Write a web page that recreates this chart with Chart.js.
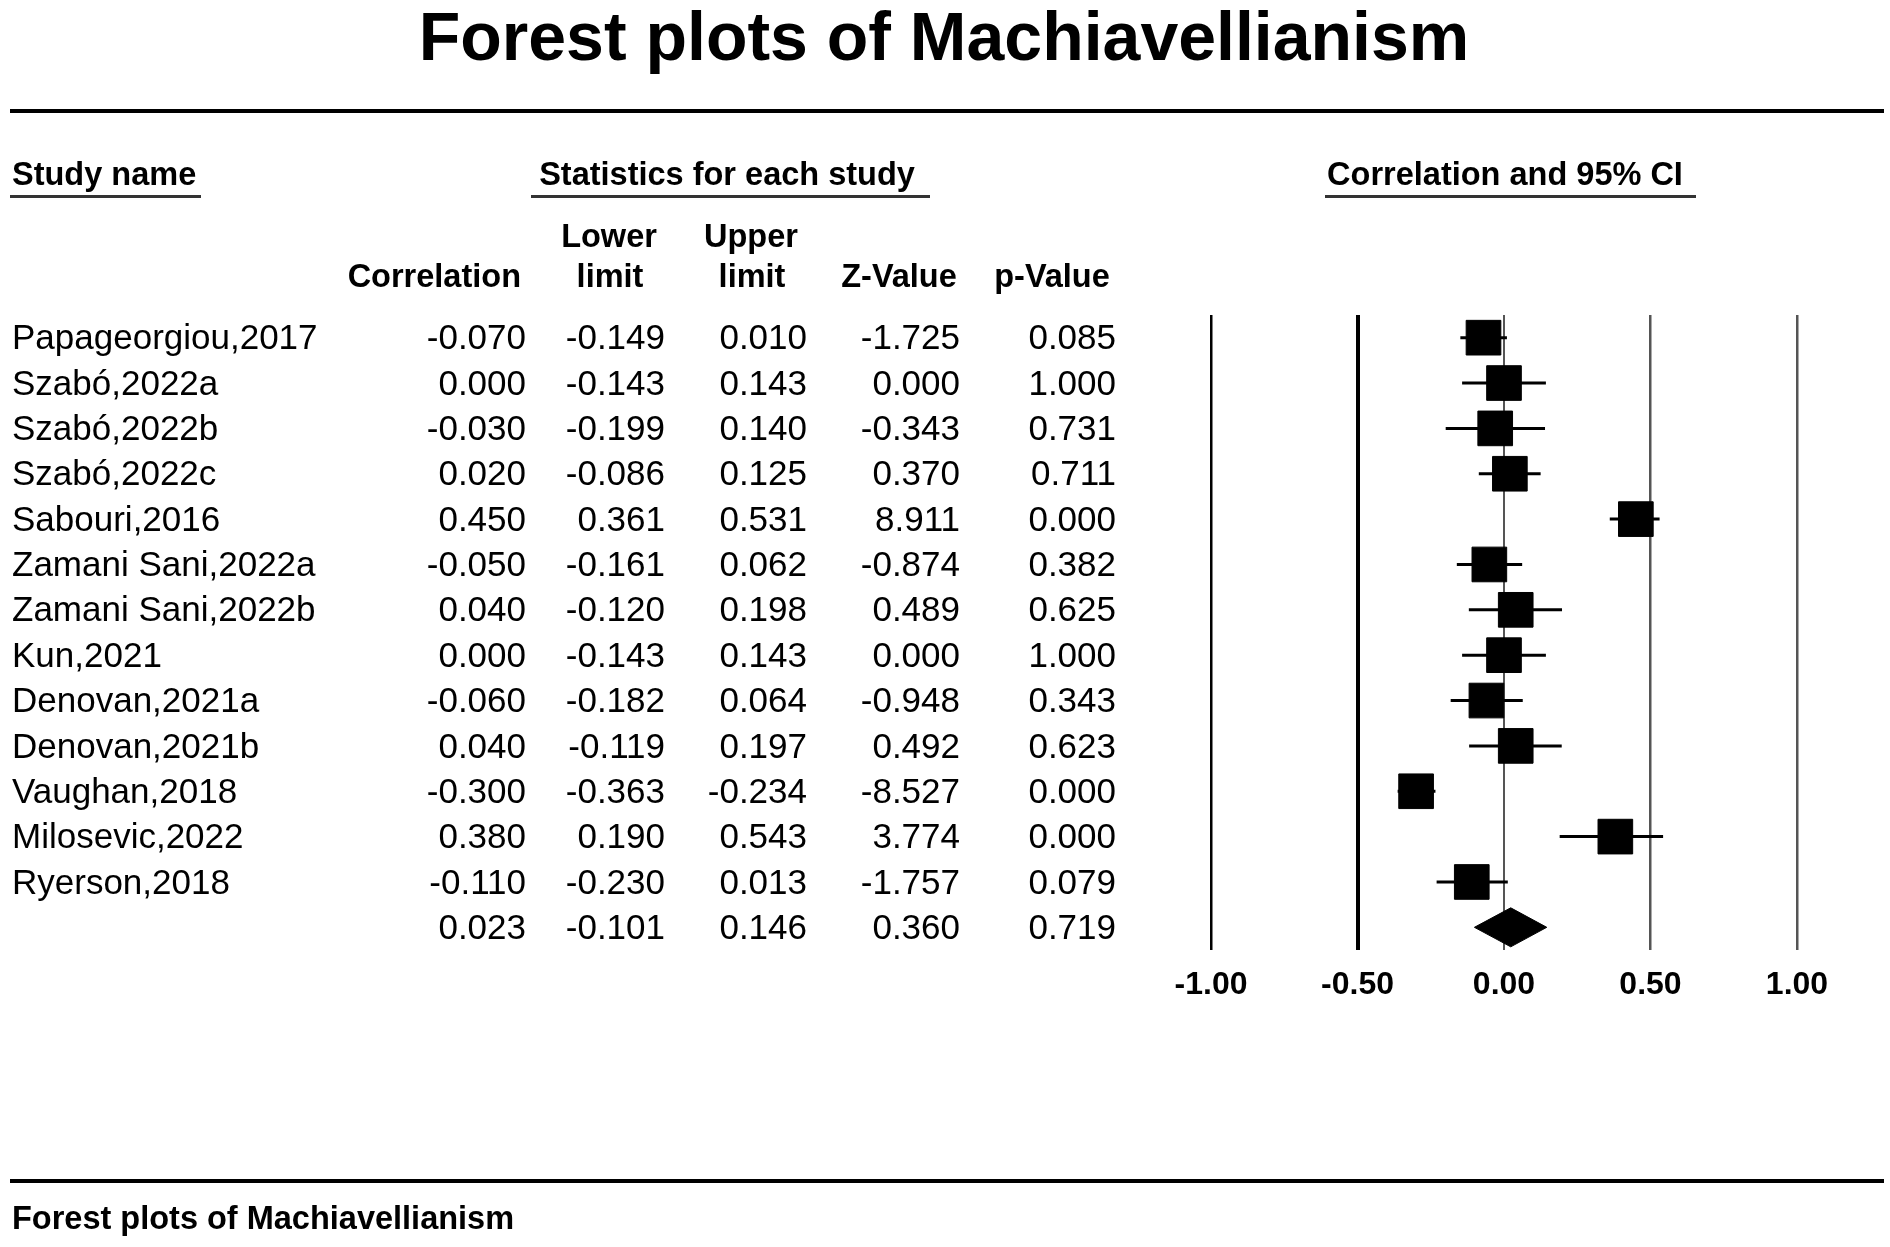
<!DOCTYPE html>
<html>
<head>
<meta charset="utf-8">
<title>Forest plots of Machiavellianism</title>
<script src="https://cdn.jsdelivr.net/npm/chart.js@4.4.1/dist/chart.umd.min.js"></script>
<style>
  html, body { margin: 0; padding: 0; background: #fff; }
  #wrap { width: 1890px; height: 1247px; }
</style>
</head>
<body>
<div id="wrap"><canvas id="chart" width="1890" height="1247"></canvas></div>
<script>
//-----------------------------------------------------------------------------
// Data
//-----------------------------------------------------------------------------

var studies = [
  "Papageorgiou,2017", "Szabó,2022a", "Szabó,2022b", "Szabó,2022c",
  "Sabouri,2016", "Zamani Sani,2022a", "Zamani Sani,2022b", "Kun,2021",
  "Denovan,2021a", "Denovan,2021b", "Vaughan,2018", "Milosevic,2022",
  "Ryerson,2018"
];
var correlation = [-0.070, 0.000, -0.030, 0.020, 0.450, -0.050, 0.040, 0.000, -0.060, 0.040, -0.300, 0.380, -0.110];
var lowerLimit  = [-0.149, -0.143, -0.199, -0.086, 0.361, -0.161, -0.120, -0.143, -0.182, -0.119, -0.363, 0.190, -0.230];
var upperLimit  = [0.010, 0.143, 0.140, 0.125, 0.531, 0.062, 0.198, 0.143, 0.064, 0.197, -0.234, 0.543, 0.013];
var zValue      = [-1.725, 0.000, -0.343, 0.370, 8.911, -0.874, 0.489, 0.000, -0.948, 0.492, -8.527, 3.774, -1.757];
var pValue      = [0.085, 1.000, 0.731, 0.711, 0.000, 0.382, 0.625, 1.000, 0.343, 0.623, 0.000, 0.000, 0.079];

// pooled row: correlation, lower, upper, z, p
var summaryStats = [0.023, -0.101, 0.146, 0.360, 0.719];

var axisTicks = [-1.00, -0.50, 0.00, 0.50, 1.00];

//-----------------------------------------------------------------------------
// Helpers
//-----------------------------------------------------------------------------

var FONT = "'Liberation Sans', Arial, sans-serif";
var summaryRow = studies.length; // row index of the pooled estimate

function fmt(v, n) {
  return v.toFixed(n);
}

// one short line per study for its CI
var ciDatasets = studies.map(function(name, i) {
  return {
    label: name + " CI",
    data: [{x: lowerLimit[i], y: i}, {x: upperLimit[i], y: i}],
    showLine: true,
    borderColor: "#000",
    borderWidth: 3,
    pointRadius: 0,
    order: 2
  };
});

// summary diamond spans the pooled CI
var dh = 0.43;
var diamond = [
  {x: summaryStats[1], y: summaryRow},
  {x: summaryStats[0], y: summaryRow - dh},
  {x: summaryStats[2], y: summaryRow},
  {x: summaryStats[0], y: summaryRow + dh},
  {x: summaryStats[1], y: summaryRow}
];

//-----------------------------------------------------------------------------
// Table / decoration plugin
//-----------------------------------------------------------------------------

var tablePlugin = {
  id: "forestTable",
  afterDraw: function(chart) {
    var c = chart.ctx;
    var ys = chart.scales.y;
    c.save();
    c.fillStyle = "#000";

    // title
    c.font = "bold 68px " + FONT;
    c.textAlign = "center";
    c.textBaseline = "alphabetic";
    c.fillText("Forest plots of Machiavellianism", 944, 60);

    // rules
    c.fillRect(10, 109, 1874, 4);
    c.fillRect(10, 1179, 1874, 4);

    // group headers
    c.font = "bold 32.5px " + FONT;
    c.textAlign = "left";
    c.fillText("Study name", 12, 185);
    c.textAlign = "center";
    c.fillText("Statistics for each study", 727, 185);
    c.fillText("Correlation and 95% CI", 1505, 185);
    c.fillStyle = "#333";
    c.fillRect(10, 195, 191, 3);
    c.fillRect(531, 195, 399, 3);
    c.fillRect(1325, 195, 371, 3);
    c.fillStyle = "#000";

    // column headers
    c.fillText("Lower", 609, 247);
    c.fillText("Upper", 751, 247);
    c.fillText("limit", 610, 287);
    c.fillText("limit", 752, 287);
    c.fillText("Z-Value", 899, 287);
    c.fillText("p-Value", 1052, 287);
    c.textAlign = "right";
    c.fillText("Correlation", 521, 287);

    // study rows
    c.font = "35px " + FONT;
    c.textBaseline = "middle";
    var cols = [526, 665, 807, 960, 1116];
    studies.forEach(function(name, i) {
      var y = ys.getPixelForValue(i) + 2;
      c.textAlign = "left";
      c.fillText(name, 12, y);
      c.textAlign = "right";
      var vals = [correlation[i], lowerLimit[i], upperLimit[i], zValue[i], pValue[i]];
      vals.forEach(function(v, k) { c.fillText(fmt(v, 3), cols[k], y); });
    });
    var ySum = ys.getPixelForValue(summaryRow) + 2;
    summaryStats.forEach(function(v, k) { c.fillText(fmt(v, 3), cols[k], ySum); });

    // footer
    c.font = "bold 32.5px " + FONT;
    c.textAlign = "left";
    c.textBaseline = "alphabetic";
    c.fillText("Forest plots of Machiavellianism", 12, 1229);
    c.restore();
  }
};

//-----------------------------------------------------------------------------
// Chart
//-----------------------------------------------------------------------------

var gridColor = function(ctx) {
  var v = ctx.tick ? ctx.tick.value : 0;
  return v < 0 ? "#000" : "#555";
};
var gridWidth = function(ctx) {
  var v = ctx.tick ? ctx.tick.value : 0;
  if (v === -0.5) return 4;
  if (v === 0) return 2;
  return 2.5;
};

new Chart(document.getElementById("chart"), {
  type: "scatter",
  data: {
    datasets: [
      {
        label: "Correlation",
        data: correlation.map(function(v, i) { return {x: v, y: i}; }),
        pointStyle: "rect",
        pointRadius: 24.5,
        backgroundColor: "#000",
        borderColor: "#000",
        borderWidth: 1,
        order: 0
      },
      {
        label: "Pooled",
        data: diamond,
        showLine: true,
        fill: "shape",
        backgroundColor: "#000",
        borderColor: "#000",
        borderWidth: 1,
        pointRadius: 0,
        order: 1
      }
    ].concat(ciDatasets)
  },
  options: {
    responsive: false,
    animation: false,
    events: [],
    layout: {padding: {left: 1211, right: 93, top: 315, bottom: 226.6}},
    plugins: {legend: {display: false}, tooltip: {enabled: false}},
    scales: {
      x: {
        type: "linear",
        min: -1,
        max: 1,
        afterBuildTicks: function(s) {
          s.ticks = axisTicks.map(function(v) { return {value: v}; });
        },
        border: {display: false},
        grid: {drawTicks: false, color: gridColor, lineWidth: gridWidth},
        ticks: {
          padding: 16,
          color: "#000",
          font: {family: FONT, size: 32, weight: "bold"},
          maxRotation: 0,
          callback: function(v) { return fmt(v, 2); }
        }
      },
      y: {
        type: "linear",
        display: false,
        reverse: true,
        min: -0.5,
        max: 13.5
      }
    }
  },
  plugins: [tablePlugin]
});
</script>
</body>
</html>
